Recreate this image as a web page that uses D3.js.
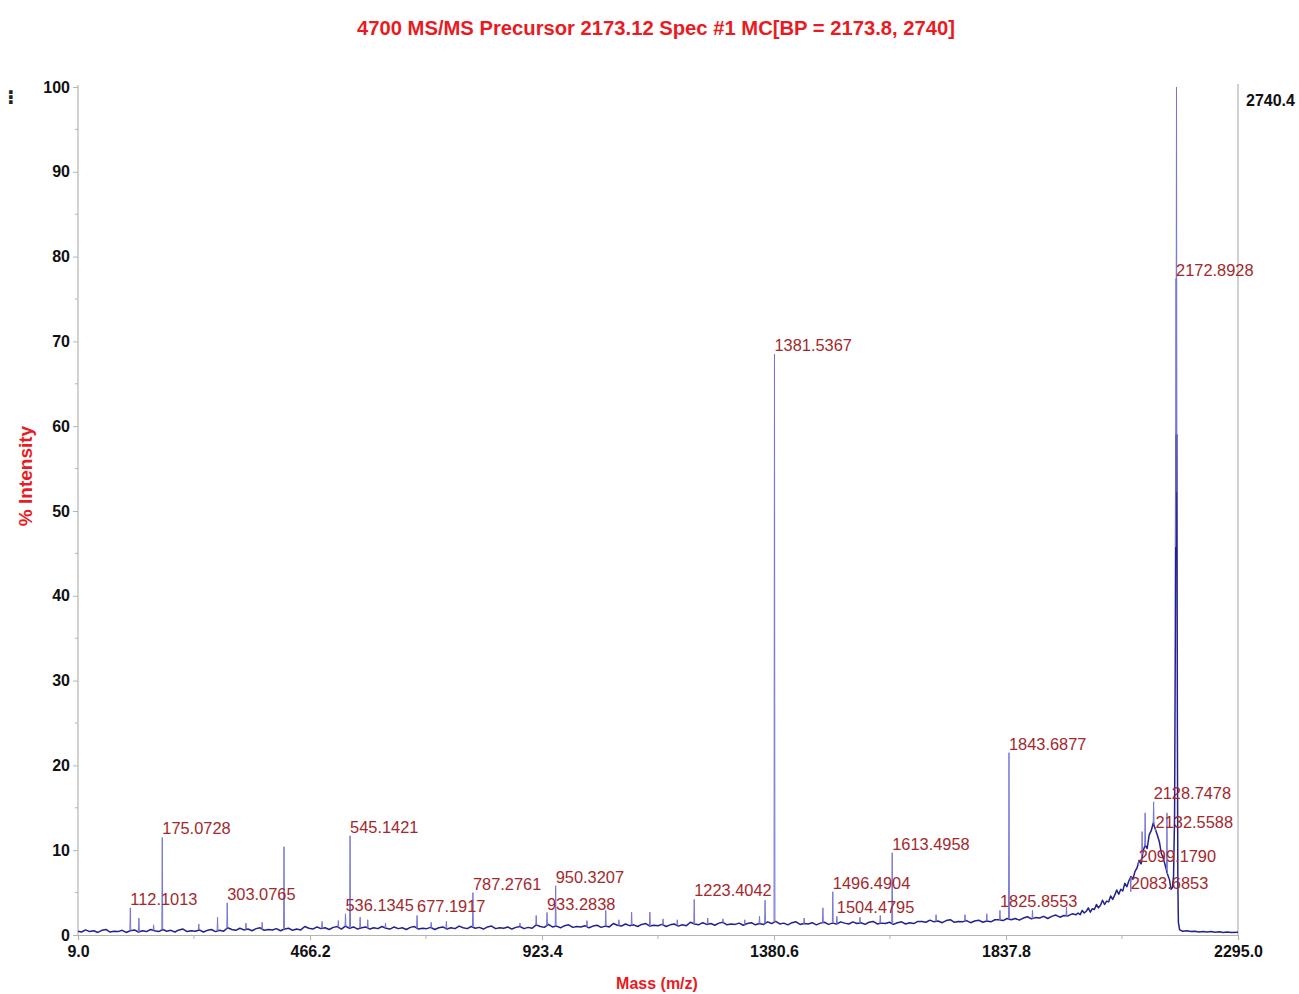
<!DOCTYPE html>
<html>
<head>
<meta charset="utf-8">
<script src="https://cdn.jsdelivr.net/npm/d3@7/dist/d3.min.js"></script>
<style>
  html, body { margin: 0; padding: 0; background: #ffffff; }
  svg { display: block; }
</style>
</head>
<body>
<svg id="chart" width="1299" height="994"></svg>
<script>
// ---- Spectrum data -------------------------------------------------------
const titleText = "4700 MS/MS Precursor 2173.12 Spec #1 MC[BP = 2173.8, 2740]";
const xAxisTitle = "Mass (m/z)";
const yAxisTitle = "% Intensity";
const maxIntensityLabel = "2740.4";

const massTicks = [9.0, 466.2, 923.4, 1380.6, 1837.8, 2295.0];
const intensityTicks = [0, 10, 20, 30, 40, 50, 60, 70, 80, 90, 100];

// Continuous profile trace: [m/z, % intensity]
const profile = [
  [9,0.45],[16,0.35],[24,0.6],[32,0.4],[40,0.5],[48,0.3],[56,0.55],[64,0.65],[72,0.35],[80,0.45],[88,0.4],[96,0.55],[104,0.3],[112,0.5],[120,0.6],[128,0.35],[136,0.5],[144,0.4],[152,0.65],
  [160,0.5],[168,0.4],[176,0.65],[184,0.45],[192,0.55],[200,0.35],[208,0.6],[216,0.7],[224,0.4],[232,0.5],[240,0.45],[248,0.6],[256,0.35],[264,0.55],[272,0.65],[280,0.4],[288,0.55],[296,0.45],
  [304,0.85],[312,0.65],[320,0.55],[328,0.8],[336,0.6],[344,0.7],[352,0.5],[360,0.75],[368,0.85],[376,0.55],[384,0.65],[392,0.6],[400,0.75],[408,0.5],[416,0.7],[424,0.8],[432,0.55],[440,0.7],[448,0.6],
  [456,1.0],[464,0.8],[472,0.7],[480,0.95],[488,0.75],[496,0.85],[504,0.65],[512,0.9],[520,1.0],[528,0.7],[536,1.05],[544,0.8],[552,0.95],[560,0.7],[568,0.85],[576,0.95],[584,0.7],[592,0.85],[600,0.75],
  [608,1.0],[616,0.8],[624,0.7],[632,0.95],[640,0.75],[648,0.85],[656,0.65],[664,0.9],[672,1.0],[680,0.7],[688,0.8],[696,0.75],[704,0.9],[712,0.65],[720,0.85],[728,0.95],[736,0.7],[744,0.85],[752,0.75],
  [760,1.05],[768,0.85],[776,0.75],[784,1.0],[792,0.8],[800,0.9],[808,0.7],[816,0.95],[824,1.05],[832,0.75],[840,0.85],[848,0.8],[856,0.95],[864,0.7],[872,0.9],[880,1.0],[888,0.75],[896,0.9],[904,0.8],
  [912,1.2],[920,1.0],[928,0.9],[936,1.25],[944,0.95],[952,1.05],[960,0.85],[968,1.1],[976,1.2],[984,0.9],[992,1.0],[1000,0.95],[1008,1.1],[1016,0.85],[1024,1.05],[1032,1.15],[1040,0.9],[1048,1.05],[1056,0.95],
  [1064,1.35],[1072,1.15],[1080,1.05],[1088,1.3],[1096,1.1],[1104,1.2],[1112,1.0],[1120,1.25],[1128,1.35],[1136,1.05],[1144,1.15],[1152,1.1],[1160,1.25],[1168,1.0],[1176,1.2],[1184,1.3],[1192,1.05],[1200,1.2],[1208,1.1],
  [1216,1.5],[1224,1.3],[1232,1.2],[1240,1.45],[1248,1.25],[1256,1.35],[1264,1.15],[1272,1.4],[1280,1.5],[1288,1.2],[1296,1.3],[1304,1.25],[1312,1.4],[1320,1.15],[1328,1.35],[1336,1.45],[1344,1.2],[1352,1.35],[1360,1.25],
  [1368,1.55],[1376,1.35],[1384,1.6],[1392,1.3],[1400,1.4],[1408,1.2],[1416,1.45],[1424,1.55],[1432,1.25],[1440,1.35],[1448,1.3],[1456,1.45],[1464,1.2],[1472,1.4],[1480,1.5],[1488,1.25],[1496,1.4],[1504,1.3],[1512,1.55],
  [1520,1.4],[1528,1.3],[1536,1.55],[1544,1.35],[1552,1.45],[1560,1.25],[1568,1.5],[1576,1.6],[1584,1.3],[1592,1.4],[1600,1.35],[1608,1.5],[1616,1.25],[1624,1.45],[1632,1.55],[1640,1.3],[1648,1.45],[1656,1.35],[1664,1.6],
  [1672,1.6],[1680,1.5],[1688,1.75],[1696,1.55],[1704,1.65],[1712,1.45],[1720,1.7],[1728,1.8],[1736,1.5],[1744,1.6],[1752,1.55],[1760,1.7],[1768,1.45],[1776,1.65],[1784,1.75],[1792,1.5],[1800,1.65],[1808,1.55],[1816,1.8],
  [1824,1.8],[1832,1.7],[1840,1.95],[1848,1.8],[1856,1.95],[1864,1.75],[1872,2.0],[1880,2.15],[1888,1.9],[1896,2.05],[1904,2.0],[1912,2.2],[1920,1.95],[1928,2.2],[1936,2.35],[1944,2.1],[1952,2.3],[1960,2.25],[1968,2.5],[1976,2.4],
  [1980,2.6],[1984,2.4],[1988,2.9],[1992,2.6],[1996,2.8],[2000,3.2],[2004,2.7],[2008,3.1],[2012,3.0],[2016,3.6],[2020,3.2],[2024,3.5],[2028,4.1],[2032,3.6],[2036,4.0],[2040,3.9],[2044,4.6],[2048,4.2],[2052,4.7],
  [2056,5.3],[2060,4.8],[2064,5.4],[2068,5.2],[2072,6.1],[2076,5.7],[2080,6.4],[2084,6.9],[2088,6.6],[2092,7.5],[2096,7.9],[2100,8.8],[2104,8.4],[2108,9.9],[2112,10.6],[2116,10.2],[2120,11.8],[2124,12.3],[2128,13.2],
  [2132,12.5],[2136,11.8],[2140,11.0],[2144,9.6],[2148,9.0],[2152,8.1],[2156,7.2],[2160,6.5],[2163,5.4],[2166,5.6],[2168,7.0],[2170,14],[2171.5,35],[2172.6,59],[2174.5,59],[2175.5,25],[2176.5,6],[2177.5,1.5],
  [2180,0.6],[2186,0.45],[2194,0.5],[2202,0.4],[2210,0.45],[2218,0.35],[2226,0.42],[2234,0.35],[2242,0.4],[2250,0.33],[2258,0.38],[2266,0.3],[2274,0.36],[2282,0.3],[2295,0.32]
];

// Labelled centroid peaks
const labelledMz = [112.1013, 175.0728, 303.0765, 536.1345, 545.1421, 677.1917, 787.2761, 933.2838, 950.3207,
  1223.4042, 1381.5367, 1496.4904, 1504.4795, 1613.4958, 1825.8553, 1843.6877, 2083.6853, 2099.1790,
  2128.7478, 2132.5588, 2172.8928];
const labelledIntensity = [3.2, 11.5, 3.8, 2.5, 11.7, 2.3, 5.0, 2.65, 5.8,
  4.2, 68.5, 5.1, 2.2, 9.7, 2.9, 21.5, 5.1, 8.2,
  15.7, 12.3, 77.4];

// Unlabelled peaks (base peak included)
const otherMz = [129, 158, 247, 284, 340, 372, 415, 490, 522, 565, 580, 615, 705, 735, 880, 912, 1012, 1049, 1075, 1100,
  1136, 1162, 1190, 1250, 1280, 1323, 1352, 1363, 1440, 1477, 1550, 1590, 1700, 1757, 1800, 1890, 1957, 2106, 2112, 2155, 2173.8];
const otherIntensity = [2.0, 1.2, 1.3, 2.1, 1.4, 1.5, 10.4, 1.6, 1.7, 2.1, 1.8, 1.4, 1.5, 1.6, 1.4, 2.3, 1.7, 2.9, 1.8, 2.7,
  2.7, 1.9, 1.8, 2.0, 1.9, 1.8, 2.2, 4.1, 2.0, 3.2, 2.1, 2.3, 2.4, 2.4, 2.5, 2.9, 3.3, 12.2, 14.4, 14.4, 100];

// ---- Layout --------------------------------------------------------------
const svg = d3.select("#chart");
const x = d3.scaleLinear().domain([9, 2295]).range([78, 1238]);
const y = d3.scaleLinear().domain([0, 100]).range([935, 87]);

const axisGrey = "#b4b4b4";
const titleRed = "#ea1a22";
const peakRed = "#a3292c";

// Title
svg.append("text")
  .attr("x", 656).attr("y", 35)
  .attr("text-anchor", "middle")
  .attr("font-family", "'Liberation Sans Narrow', 'Arial Narrow', 'Liberation Sans', Arial, sans-serif")
  .attr("font-weight", "bold").attr("font-size", 20)
  .attr("textLength", 598).attr("lengthAdjust", "spacingAndGlyphs")
  .attr("fill", titleRed)
  .text(titleText);

// Right-hand frame line
svg.append("line")
  .attr("x1", x(2295)).attr("x2", x(2295))
  .attr("y1", 84).attr("y2", y(0))
  .attr("stroke", axisGrey).attr("stroke-width", 1.2);

// Y axis
const yAxis = d3.axisLeft(y).tickValues(intensityTicks).tickFormat(d3.format("d")).tickSize(5).tickPadding(3);
const gy = svg.append("g").attr("transform", `translate(${x(9)},0)`).call(yAxis);
const yMinor = d3.pairs(intensityTicks).map(([a, b]) => (a + b) / 2);
gy.selectAll(".minor").data(yMinor).enter().append("line")
  .attr("class", "minor").attr("x1", -3).attr("x2", 0)
  .attr("y1", d => y(d)).attr("y2", d => y(d));

// X axis
const xAxis = d3.axisBottom(x).tickValues(massTicks).tickFormat(d3.format(".1f")).tickSize(5).tickPadding(6);
const gx = svg.append("g").attr("transform", `translate(0,${y(0)})`).call(xAxis);
const xMinor = d3.pairs(massTicks).map(([a, b]) => (a + b) / 2);
gx.selectAll(".minor").data(xMinor).enter().append("line")
  .attr("class", "minor").attr("y1", 0).attr("y2", 4)
  .attr("x1", d => x(d)).attr("x2", d => x(d));

[gx, gy].forEach(g => {
  g.select(".domain").attr("stroke", axisGrey).attr("stroke-width", 1.2);
  g.selectAll("line").attr("stroke", axisGrey);
  g.selectAll("text")
    .attr("font-family", "'Liberation Sans', Arial, sans-serif")
    .attr("font-weight", "bold").attr("font-size", 16).attr("fill", "#111");
});
gy.select(".domain").attr("d", `M0,${y(0)}V${y(100) - 2}`);

// Axis titles
svg.append("text")
  .attr("transform", `translate(32,476) rotate(-90)`)
  .attr("text-anchor", "middle")
  .attr("font-family", "'Liberation Sans', Arial, sans-serif")
  .attr("font-weight", "bold").attr("font-size", 19)
  .attr("fill", titleRed)
  .text(yAxisTitle);

svg.append("text")
  .attr("x", 657).attr("y", 989)
  .attr("text-anchor", "middle")
  .attr("font-family", "'Liberation Sans', Arial, sans-serif")
  .attr("font-weight", "bold").attr("font-size", 16)
  .attr("fill", titleRed)
  .text(xAxisTitle);

// Absolute intensity of the base peak
svg.append("text")
  .attr("x", 1246).attr("y", 106)
  .attr("font-family", "'Liberation Sans', Arial, sans-serif")
  .attr("font-weight", "bold").attr("font-size", 16)
  .attr("fill", "#111")
  .text(maxIntensityLabel);

// Small marker glyph at the top-left corner
svg.append("text")
  .attr("x", 7).attr("y", 104)
  .attr("font-family", "'DejaVu Sans', sans-serif")
  .attr("font-weight", "bold").attr("font-size", 20)
  .attr("fill", "#222")
  .text("⁝");

// ---- Spectrum ------------------------------------------------------------
const profileMz = profile.map(d => d[0]);
const bisect = d3.bisector(d => d).left;
function profileAt(mz) {
  const i = Math.max(1, Math.min(profile.length - 1, bisect(profileMz, mz)));
  const a = profile[i - 1], b = profile[i];
  const t = (mz - a[0]) / (b[0] - a[0]);
  return a[1] + (b[1] - a[1]) * Math.max(0, Math.min(1, t));
}

const peaks = labelledMz.map((m, i) => ({ mz: m, v: labelledIntensity[i], label: m.toFixed(4) }))
  .concat(otherMz.map((m, i) => ({ mz: m, v: otherIntensity[i], label: null })));

// Profile trace
const line = d3.line().x(d => x(d[0])).y(d => y(d[1]));
svg.append("path")
  .datum(profile)
  .attr("d", line)
  .attr("fill", "none")
  .attr("stroke", "#22228e")
  .attr("stroke-width", 1.5)
  .attr("stroke-linejoin", "round");

// Peak sticks: thin narrow spikes rising from the trace
const spike = d => {
  const w = 0.9;
  return `M${x(d.mz - w)},${y(profileAt(d.mz - w))}L${x(d.mz)},${y(d.v)}L${x(d.mz + w)},${y(profileAt(d.mz + w))}`;
};
svg.append("g").selectAll("path").data(peaks).enter().append("path")
  .attr("d", spike)
  .attr("fill", "none")
  .attr("stroke", "#7676d4")
  .attr("stroke-width", 1)
  .attr("stroke-linejoin", "miter");

// Peak annotations
svg.append("g").selectAll("text").data(peaks.filter(d => d.label)).enter().append("text")
  .attr("x", d => x(d.mz))
  .attr("y", d => y(d.v) - 3)
  .attr("font-family", "'Liberation Sans', Arial, sans-serif")
  .attr("font-size", 16.4)
  .attr("fill", peakRed)
  .text(d => d.label);
</script>
</body>
</html>
